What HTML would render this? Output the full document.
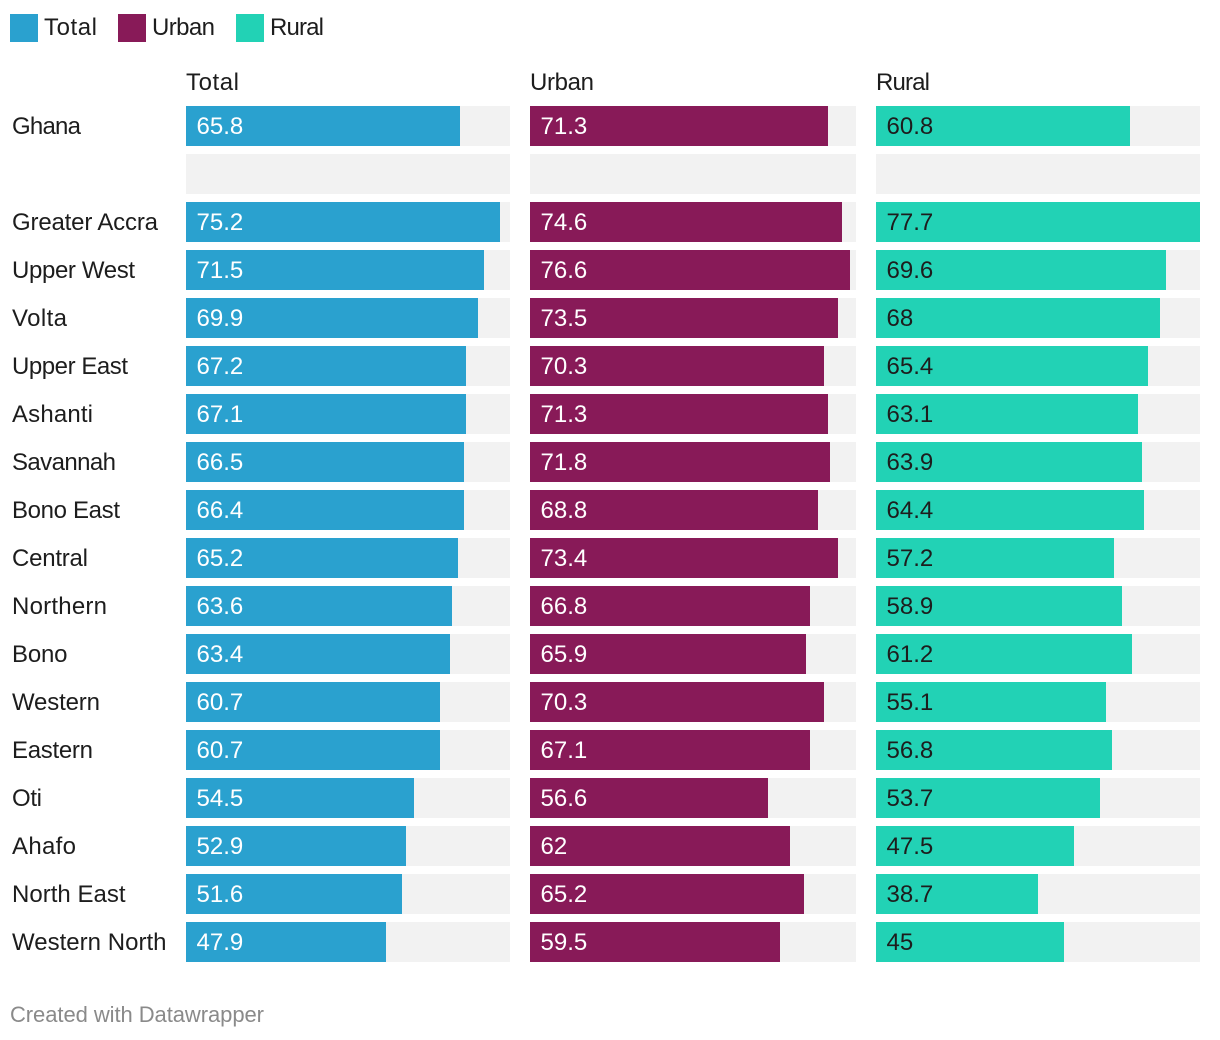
<!DOCTYPE html>
<html lang="en">
<head>
<meta charset="utf-8">
<title>Ghana regions: Total, Urban and Rural</title>
<style>
html,body{margin:0;padding:0;background:#fff;}
body{width:1220px;height:1040px;overflow:hidden;}
svg{display:block;}
text{font-family:"Liberation Sans",sans-serif;font-size:24px;fill:#1d1d1d;}
</style>
</head>
<body>
<svg id="chart" xmlns="http://www.w3.org/2000/svg" width="1220" height="1040" viewBox="0 0 1220 1040">
  <g>
    <g>
      <rect x="10" y="14" width="28" height="28" fill="#2aa1cf"/>
      <text x="44" y="35" textLength="53" lengthAdjust="spacing">Total</text>
    </g>
    <g>
      <rect x="118" y="14" width="28" height="28" fill="#881a58"/>
      <text x="152" y="35" textLength="63" lengthAdjust="spacing">Urban</text>
    </g>
    <g>
      <rect x="236" y="14" width="28" height="28" fill="#22d2b5"/>
      <text x="270" y="35" textLength="54" lengthAdjust="spacing">Rural</text>
    </g>
  </g>
  <text x="186" y="90" textLength="53" lengthAdjust="spacing">Total</text>
  <text x="530" y="90" textLength="64" lengthAdjust="spacing">Urban</text>
  <text x="876" y="90" textLength="54" lengthAdjust="spacing">Rural</text>
  <g id="rows"></g>
  <text x="10" y="1022" textLength="254" lengthAdjust="spacing" style="font-size:22px;fill:#8a8a8a">Created with Datawrapper</text>
</svg>
<script>
const categories = ["Ghana", "", "Greater Accra", "Upper West", "Volta", "Upper East", "Ashanti", "Savannah", "Bono East", "Central", "Northern", "Bono", "Western", "Eastern", "Oti", "Ahafo", "North East", "Western North"];
const totalValues = [65.8, null, 75.2, 71.5, 69.9, 67.2, 67.1, 66.5, 66.4, 65.2, 63.6, 63.4, 60.7, 60.7, 54.5, 52.9, 51.6, 47.9];
const urbanValues = [71.3, null, 74.6, 76.6, 73.5, 70.3, 71.3, 71.8, 68.8, 73.4, 66.8, 65.9, 70.3, 67.1, 56.6, 62, 65.2, 59.5];
const ruralValues = [60.8, null, 77.7, 69.6, 68, 65.4, 63.1, 63.9, 64.4, 57.2, 58.9, 61.2, 55.1, 56.8, 53.7, 47.5, 38.7, 45];

const SVG_NS = "http://www.w3.org/2000/svg";
const rowsGroup = document.getElementById("rows");
const ROW_TOP = 106, ROW_STEP = 48, BAR_HEIGHT = 40;

/* Typesetting only: advance width each row label should occupy. */
const rowLabelFit = {
  "Ghana": 69, "Greater Accra": 146, "Upper West": 123, "Volta": 55, "Upper East": 116,
  "Ashanti": 81, "Savannah": 104, "Bono East": 108, "Central": 76, "Northern": 95,
  "Bono": 55.5, "Western": 88, "Eastern": 81, "Oti": 30, "Ahafo": 64,
  "North East": 113.5, "Western North": 154.5
};

const panels = [
  { key: "total", values: totalValues, x: 186, width: 324, domainMax: 77.6, color: "#2aa1cf", labelColor: "#ffffff" },
  { key: "urban", values: urbanValues, x: 530, width: 326, domainMax: 77.85, color: "#881a58", labelColor: "#ffffff" },
  { key: "rural", values: ruralValues, x: 876, width: 324, domainMax: 77.75, color: "#22d2b5", labelColor: "#1d1d1d" }
];

function yScale(index) {
  return ROW_TOP + index * ROW_STEP;
}
function barWidth(panel, value) {
  return Math.min(panel.width, Math.round((value / panel.domainMax) * panel.width / 2) * 2);
}
function make(tag, parent, props) {
  const el = document.createElementNS(SVG_NS, tag);
  Object.keys(props).forEach(function (k) { el.setAttribute(k, props[k]); });
  parent.appendChild(el);
  return el;
}

categories.forEach(function (category, i) {
  const y = yScale(i);
  const slug = category ? category.toLowerCase().replace(/\s+/g, "-") : "spacer";
  if (category) {
    const label = make("text", rowsGroup, { x: 12, y: y + 28 });
    
    
    if (rowLabelFit[category]) {
      label.setAttribute("textLength", rowLabelFit[category]);
      label.setAttribute("lengthAdjust", "spacing");
    }
    label.textContent = category;
  }
  panels.forEach(function (panel) {
    const bg = make("rect", rowsGroup, { x: panel.x, y: y, width: panel.width, height: BAR_HEIGHT, fill: "#f2f2f2" });
    
    
    const value = panel.values[i];
    if (value === null || value === undefined) return;
    const bar = make("rect", rowsGroup, { x: panel.x, y: y, width: barWidth(panel, value), height: BAR_HEIGHT, fill: panel.color });
    
    
    const valueLabel = make("text", rowsGroup, { x: panel.x + 10.5, y: y + 28 });
    valueLabel.style.fill = panel.labelColor;
    
    
    valueLabel.textContent = String(value);
  });
});
</script>
</body>
</html>
